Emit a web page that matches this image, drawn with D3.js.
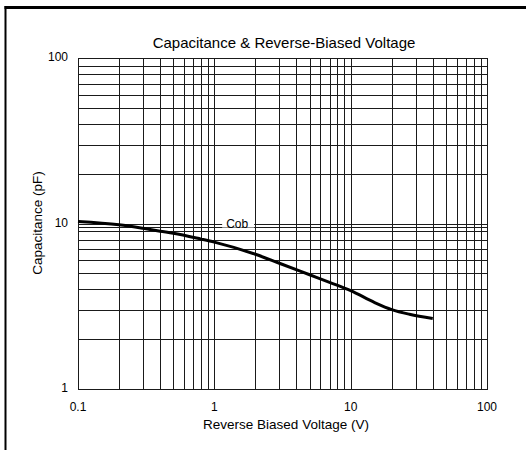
<!DOCTYPE html>
<html>
<head>
<meta charset="utf-8">
<script src="https://cdn.jsdelivr.net/npm/d3@7/dist/d3.min.js"></script>
<style>
  html, body { margin: 0; padding: 0; background: #fff; }
  svg { display: block; font-family: "Liberation Sans", Arial, Helvetica, sans-serif; }
</style>
</head>
<body>
<svg id="chart" width="526" height="450"></svg>
<script>
// ---- data ----
const voltage = [0.1, 0.2, 0.3, 0.4, 0.5, 0.8, 1, 2, 3, 5, 7, 10, 15, 20, 27, 40];
const capacitance = [10.3, 9.83, 9.35, 8.98, 8.73, 8.05, 7.72, 6.52, 5.75, 4.9, 4.41, 3.93, 3.33, 3.02, 2.83, 2.67];
const xTickLabels = [0.1, 1, 10, 100];
const yTickLabels = [1, 10, 100];
const extraGridY = [9.55];
const seriesName = "Cob";
const seriesLabelAt = [1.47, 10];

const chartTitle = "Capacitance & Reverse-Biased Voltage";
const xTitle = "Reverse Biased Voltage (V)";
const yTitle = "Capacitance (pF)";

(function () {
// ---- layout ----
const svg = d3.select("#chart");
const pLeft = 78, pRight = 487, pTop = 58, pBottom = 389;

const x = d3.scaleLog().domain([0.1, 100]).range([pLeft, pRight]);
const y = d3.scaleLog().domain([1, 100]).range([pBottom, pTop]);

// outer frame (top and left edges visible)
svg.append("line").attr("x1", 4.5).attr("x2", 526).attr("y1", 7.5).attr("y2", 7.5)
  .attr("stroke", "#000").attr("stroke-width", 3);
svg.append("line").attr("x1", 5.5).attr("x2", 5.5).attr("y1", 6).attr("y2", 450)
  .attr("stroke", "#000").attr("stroke-width", 2);

// grid
const xGrid = [];
for (let d = 0.1; d < 99; d *= 10) for (let k = 1; k <= 9; k++) xGrid.push(+(d * k).toPrecision(3));
xGrid.push(100);
const yGrid = [];
for (let d = 1; d < 99; d *= 10) for (let k = 1; k <= 9; k++) yGrid.push(d * k);
yGrid.push(100);

const snap = v => Math.round(v) + 0.5;
const g = svg.append("g");
g.selectAll("line.vx").data(xGrid).join("line")
  .attr("x1", d => snap(x(d))).attr("x2", d => snap(x(d)))
  .attr("y1", pTop).attr("y2", pBottom + 1)
  .attr("stroke", "#1a1a1a").attr("stroke-width", 1);
g.selectAll("line.hy").data(yGrid.concat(extraGridY)).join("line")
  .attr("x1", pLeft).attr("x2", pRight + 1)
  .attr("y1", d => snap(y(d))).attr("y2", d => snap(y(d)))
  .attr("stroke", "#1a1a1a").attr("stroke-width", 1);

// curve
const line = d3.line()
  .x((d, i) => x(voltage[i]))
  .y((d, i) => y(capacitance[i]))
  .curve(d3.curveMonotoneX);
svg.append("path").datum(capacitance)
  .attr("d", line)
  .attr("fill", "none").attr("stroke", "#000").attr("stroke-width", 3)
  .attr("stroke-linecap", "butt");

// series label with white box
const lx = x(seriesLabelAt[0]), ly = y(seriesLabelAt[1]);
svg.append("rect").attr("x", lx - 15).attr("y", ly - 7).attr("width", 32).attr("height", 11).attr("fill", "#fff");
svg.append("text").attr("x", lx).attr("y", ly + 4)
  .attr("text-anchor", "middle").attr("font-size", 12).text(seriesName);

// tick labels
svg.selectAll("text.xt").data(xTickLabels).join("text")
  .attr("x", d => x(d)).attr("y", 411)
  .attr("text-anchor", "middle").attr("font-size", 12)
  .text(d => String(d));
svg.selectAll("text.yt").data(yTickLabels).join("text")
  .attr("x", 68).attr("y", d => y(d) + 3)
  .attr("text-anchor", "end").attr("font-size", 12)
  .text(d => String(d));

// titles
svg.append("text").attr("x", 284).attr("y", 48)
  .attr("text-anchor", "middle").attr("font-size", 15).text(chartTitle);
svg.append("text").attr("x", 286).attr("y", 428.5)
  .attr("text-anchor", "middle").attr("font-size", 13.5).text(xTitle);
svg.append("text").attr("transform", "translate(42,223) rotate(-90)")
  .attr("text-anchor", "middle").attr("font-size", 13.5).text(yTitle);
})();
</script>
</body>
</html>
